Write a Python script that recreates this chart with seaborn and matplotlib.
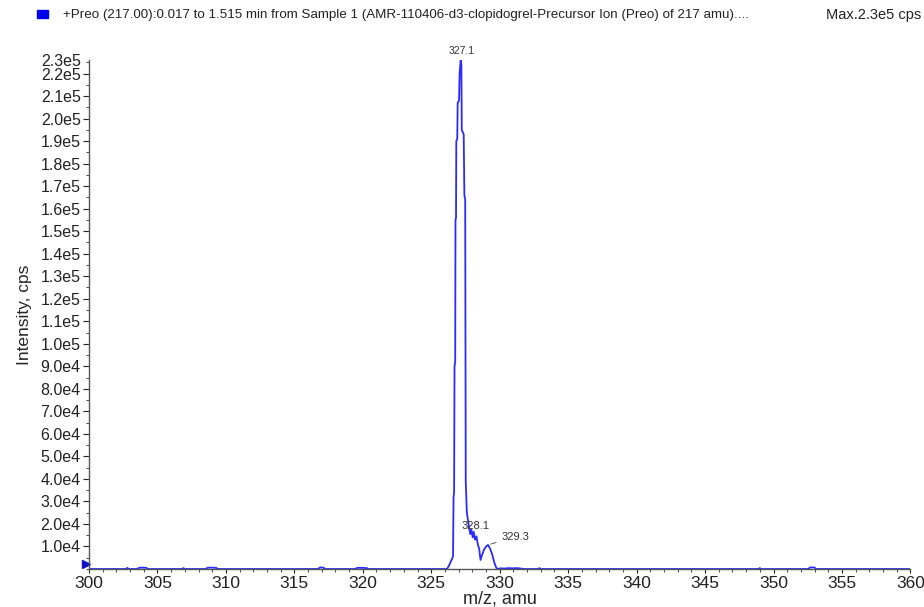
"""Precursor ion spectrum (Preo 217) recreated with seaborn"""

import numpy as np
import pandas as pd
import matplotlib

matplotlib.use("Agg")
import matplotlib.pyplot as plt
from matplotlib.patches import Rectangle
from matplotlib.ticker import FixedLocator, MultipleLocator
import seaborn as sns

# m/z values (amu) and intensities (cps)
mz = [
    300.0, 302.7, 302.8, 302.9, 303.5, 303.7, 304.0, 304.2, 304.3,
    306.8, 306.9, 307.0, 308.5, 308.7, 309.0, 309.3, 309.4,
    316.7, 316.9, 317.1, 317.3, 319.4, 319.6, 320.0, 320.3, 320.4,
    326.15, 326.30, 326.48, 326.59, 326.63, 326.67, 326.70, 326.75,
    326.77, 326.81, 326.83, 326.90, 326.93, 327.03, 327.07, 327.15,
    327.20, 327.23, 327.37, 327.42, 327.48, 327.52, 327.60, 327.75,
    327.85, 327.93, 328.03, 328.10, 328.20, 328.30, 328.40, 328.50,
    328.60, 328.70, 328.85, 329.00, 329.15, 329.30, 329.45, 329.60,
    329.75, 329.90, 330.05, 330.35, 330.65, 330.95, 331.25, 331.55, 331.75,
    332.8, 332.9, 333.0, 348.9, 349.0, 349.1, 352.5, 352.7, 353.0, 353.1,
    360.0,
]
intensity = [
    0, 0, 500, 0, 0, 600, 600, 500, 0,
    0, 400, 0, 0, 600, 600, 500, 0,
    0, 700, 600, 0, 0, 500, 500, 400, 0,
    0, 1.5e3, 4.0e3, 5.5e3, 3.2e4, 3.4e4, 9.0e4, 9.2e4,
    1.55e5, 1.56e5, 1.90e5, 1.91e5, 2.07e5, 2.08e5, 2.20e5, 2.26e5,
    2.24e5, 1.95e5, 1.93e5, 1.66e5, 1.64e5, 3.9e4, 2.5e4, 1.9e4,
    1.55e4, 1.75e4, 1.4e4, 1.65e4, 1.3e4, 1.45e4, 1.1e4, 9.0e3,
    4.0e3, 6.0e3, 8.5e3, 1.0e4, 1.07e4, 9.0e3, 6.5e3, 3.0e3,
    500, 0, 300, 200, 400, 300, 400, 200, 0,
    0, 400, 0, 0, 400, 0, 0, 700, 700, 0,
    0,
]

# labelled peaks
label_mz = [327.15, 328.25, 329.15]
label_text = ["327.1", "328.1", "329.3"]

y_major = [1e4 * k for k in range(1, 23)]

df = pd.DataFrame({"mz": mz, "intensity": intensity})

sns.set_style("ticks")
plt.rcParams["font.family"] = ["Liberation Sans", "DejaVu Sans"]

fig = plt.figure(figsize=(9.24, 6.07), dpi=100)
ax = fig.add_axes([0.0963, 0.0626, 0.889, 0.8385])

sns.lineplot(data=df, x="mz", y="intensity", ax=ax, color="#2b2bff",
             linewidth=1.3, estimator=None, sort=False)

ymax = df["intensity"].max()
ax.set_xlim(300, 360)
ax.set_ylim(0, ymax)

# ticks
ax.xaxis.set_major_locator(MultipleLocator(5))
ax.xaxis.set_minor_locator(MultipleLocator(1))
ticks = y_major + [ymax]
ax.yaxis.set_major_locator(FixedLocator(ticks))
ax.yaxis.set_minor_locator(MultipleLocator(5e3))


def sci(v):
    e = int(np.floor(np.log10(v)))
    return f"{v / 10**e:.1f}e{e}"


ylabels = [sci(v) for v in y_major] + ["2.3e5"]
ax.set_yticklabels(ylabels)
ax.tick_params(axis="y", which="major", length=4, labelsize=11.5, pad=2, colors="#222222")
ax.tick_params(axis="y", which="minor", length=2)
ax.tick_params(axis="x", which="major", length=3, labelsize=12.5, pad=2, colors="#222222")
ax.tick_params(axis="x", which="minor", length=2)
ax.get_yticklines()[-2].set_visible(False)

for s in ["top", "right"]:
    ax.spines[s].set_visible(False)
for s in ["left", "bottom"]:
    ax.spines[s].set_color("#555555")
    ax.spines[s].set_linewidth(1.0)

ax.set_xlabel("m/z, amu", fontsize=13, labelpad=0)
ax.set_ylabel("Intensity, cps", fontsize=12.5, labelpad=6)

# peak labels
for m, t in zip(label_mz, label_text):
    i = int(np.argmin([abs(v - m) for v in mz]))
    v = intensity[i]
    if t == "327.1":
        ax.annotate(t, (m, v), xytext=(1, 3), textcoords="offset points",
                    ha="center", va="bottom", fontsize=7.5, color="#333333",
                    annotation_clip=False)
    elif t == "328.1":
        ax.annotate(t, (m, v), xytext=(0, 6), textcoords="offset points",
                    ha="center", va="bottom", fontsize=8, color="#333333")
    else:
        ax.annotate(t, (m, v), xytext=(10, 6), textcoords="offset points",
                    ha="left", va="center", fontsize=8, color="#333333",
                    arrowprops=dict(arrowstyle="-", color="#555555", lw=0.7))

# blue triangle marker at the zero level
ax.plot(-0.004, 0.01, marker=">", color="#1010cc", markersize=6,
        transform=ax.transAxes, clip_on=False)

# header
fig.patches.append(Rectangle((37 / 924, 1 - 18 / 607), 11 / 924, 8 / 607,
                             transform=fig.transFigure, color="#0000ee"))
fig.text(63 / 924, 1 - 15 / 607,
         "+Preo (217.00):0.017 to 1.515 min from Sample 1 "
         "(AMR-110406-d3-clopidogrel-Precursor Ion (Preo) of 217 amu)....",
         fontsize=9.6, va="center", ha="left", color="#222222")
fig.text(921 / 924, 1 - 15 / 607, "Max.2.3e5 cps", fontsize=10.5,
         va="center", ha="right", color="#222222")

plt.savefig("out.png", dpi=100)
plt.close()
